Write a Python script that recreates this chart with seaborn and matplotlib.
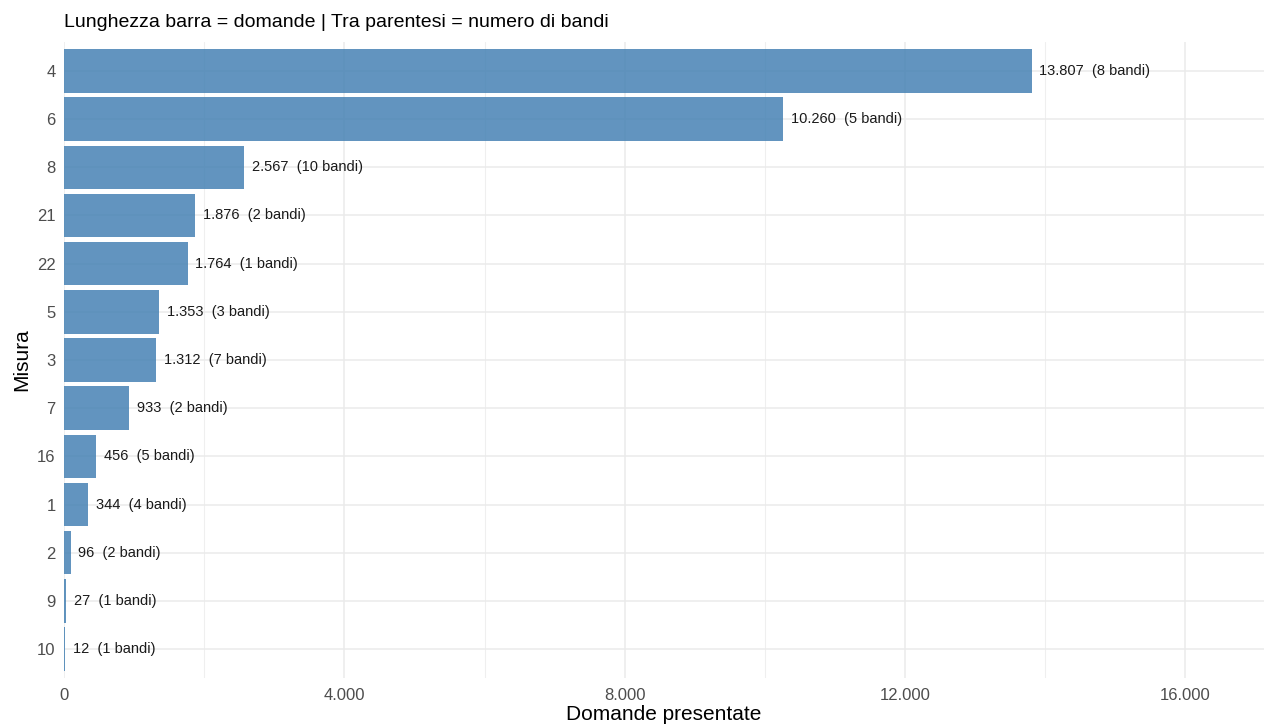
import numpy as np
import matplotlib
matplotlib.use("Agg")
import matplotlib.pyplot as plt
from matplotlib.ticker import FuncFormatter, MultipleLocator
import pandas as pd
import seaborn as sns

# ----------------------------------------------
# DATA
# ----------------------------------------------
MISURE   = ["4", "6", "8", "21", "22", "5", "3", "7", "16", "1", "2", "9", "10"]
DOMANDE  = [13807, 10260, 2567, 1876, 1764, 1353, 1312, 933, 456, 344, 96, 27, 12]
N_BANDI  = [8, 5, 10, 2, 1, 3, 7, 2, 5, 4, 2, 1, 1]

TITLE  = "Lunghezza barra = domande | Tra parentesi = numero di bandi"
XLABEL = "Domande presentate"
YLABEL = "Misura"


def it_num(v):
    # italian thousands separator
    return f"{int(round(v)):,}".replace(",", ".")


df = pd.DataFrame({"misura": MISURE, "domande": DOMANDE, "bandi": N_BANDI})

sns.set_theme(style="white")
plt.rcParams["font.family"] = ["Liberation Sans", "DejaVu Sans"]

fig = plt.figure(figsize=(12.64, 7.25), dpi=100)
ax = fig.add_axes([64 / 1264, 1 - 678 / 725, 1 - 64 / 1264, (678 - 42) / 725])

sns.barplot(data=df, x="domande", y="misura", order=MISURE, orient="h",
            color="steelblue", alpha=0.85, width=0.9, saturation=1,
            edgecolor="none", ax=ax, zorder=3)

for i, row in df.iterrows():
    ax.text(row["domande"] + 110, i, f"{it_num(row['domande'])}  ({row['bandi']} bandi)",
            va="center", ha="left", fontsize=10.5, color="#1a1a1a", zorder=4)

ax.set_xlim(0, max(DOMANDE) * 1.24)
ax.set_ylim(len(MISURE) - 0.4, -0.6)
ax.xaxis.set_major_locator(MultipleLocator(4000))
ax.xaxis.set_minor_locator(MultipleLocator(2000))
ax.xaxis.set_major_formatter(FuncFormatter(lambda v, p: it_num(v)))

ax.grid(axis="x", which="major", color="#ebebeb", linewidth=1.1, zorder=0)
ax.grid(axis="x", which="minor", color="#efefef", linewidth=0.8, zorder=0)
ax.grid(axis="y", which="major", color="#ebebeb", linewidth=1.1, zorder=0)
ax.set_axisbelow(True)
for s in ax.spines.values():
    s.set_visible(False)

ax.tick_params(axis="x", which="both", length=0, labelsize=12,
               labelcolor="#4d4d4d", pad=7)
ax.tick_params(axis="y", which="both", length=0, labelsize=12,
               labelcolor="#4d4d4d", pad=6)
ax.set_xlabel(XLABEL, fontsize=15, color="black", labelpad=2)
ax.set_ylabel(YLABEL, fontsize=15, color="black", labelpad=4)
ax.set_title(TITLE, fontsize=14, loc="left", color="black", pad=11)

fig.savefig("out.png", dpi=100)
